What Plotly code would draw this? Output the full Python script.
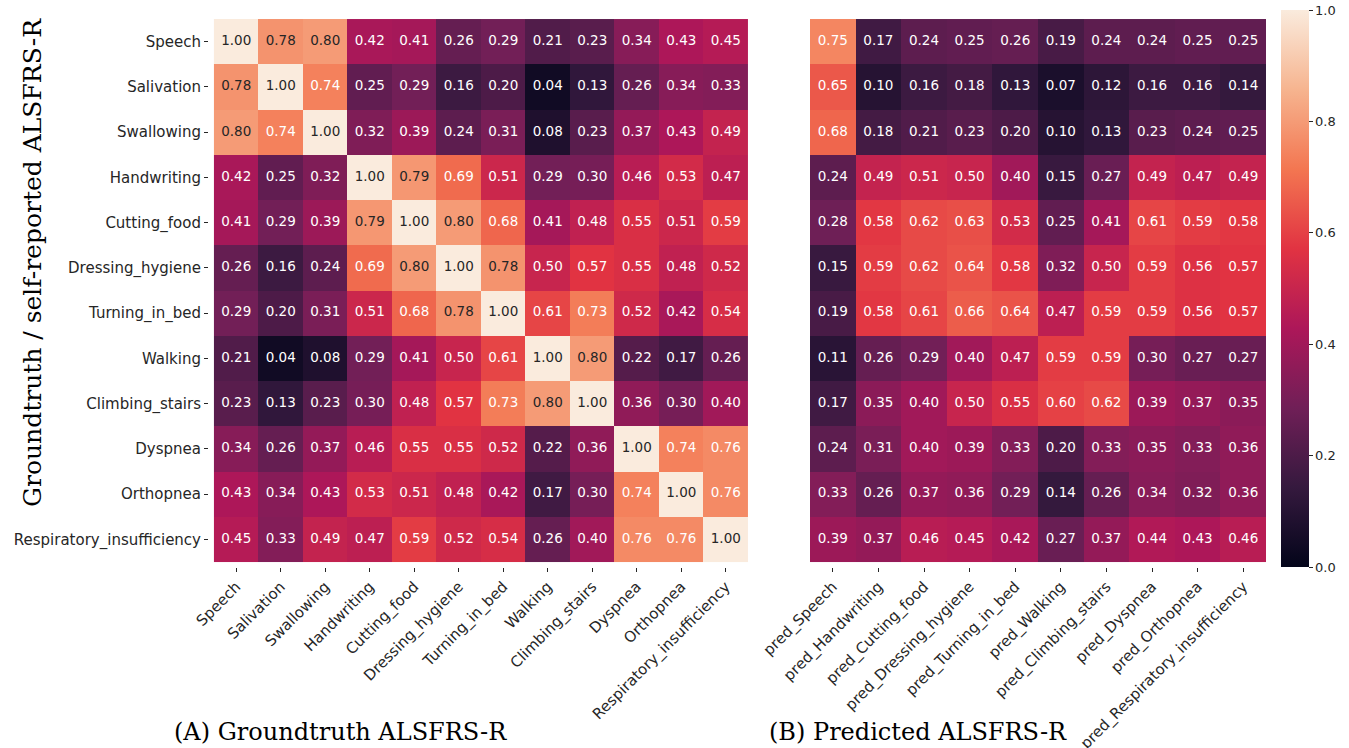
import plotly.graph_objects as go

W, H = 1349, 748

rows = ["Speech", "Salivation", "Swallowing", "Handwriting", "Cutting_food",
        "Dressing_hygiene", "Turning_in_bed", "Walking", "Climbing_stairs",
        "Dyspnea", "Orthopnea", "Respiratory_insufficiency"]
gt_cols = rows[:]
pred_cols = ["pred_Speech", "pred_Handwriting", "pred_Cutting_food",
             "pred_Dressing_hygiene", "pred_Turning_in_bed", "pred_Walking",
             "pred_Climbing_stairs", "pred_Dyspnea", "pred_Orthopnea",
             "pred_Respiratory_insufficiency"]

gt_vals = [
    [1.00, 0.78, 0.80, 0.42, 0.41, 0.26, 0.29, 0.21, 0.23, 0.34, 0.43, 0.45],
    [0.78, 1.00, 0.74, 0.25, 0.29, 0.16, 0.20, 0.04, 0.13, 0.26, 0.34, 0.33],
    [0.80, 0.74, 1.00, 0.32, 0.39, 0.24, 0.31, 0.08, 0.23, 0.37, 0.43, 0.49],
    [0.42, 0.25, 0.32, 1.00, 0.79, 0.69, 0.51, 0.29, 0.30, 0.46, 0.53, 0.47],
    [0.41, 0.29, 0.39, 0.79, 1.00, 0.80, 0.68, 0.41, 0.48, 0.55, 0.51, 0.59],
    [0.26, 0.16, 0.24, 0.69, 0.80, 1.00, 0.78, 0.50, 0.57, 0.55, 0.48, 0.52],
    [0.29, 0.20, 0.31, 0.51, 0.68, 0.78, 1.00, 0.61, 0.73, 0.52, 0.42, 0.54],
    [0.21, 0.04, 0.08, 0.29, 0.41, 0.50, 0.61, 1.00, 0.80, 0.22, 0.17, 0.26],
    [0.23, 0.13, 0.23, 0.30, 0.48, 0.57, 0.73, 0.80, 1.00, 0.36, 0.30, 0.40],
    [0.34, 0.26, 0.37, 0.46, 0.55, 0.55, 0.52, 0.22, 0.36, 1.00, 0.74, 0.76],
    [0.43, 0.34, 0.43, 0.53, 0.51, 0.48, 0.42, 0.17, 0.30, 0.74, 1.00, 0.76],
    [0.45, 0.33, 0.49, 0.47, 0.59, 0.52, 0.54, 0.26, 0.40, 0.76, 0.76, 1.00],
]

pred_vals = [
    [0.75, 0.17, 0.24, 0.25, 0.26, 0.19, 0.24, 0.24, 0.25, 0.25],
    [0.65, 0.10, 0.16, 0.18, 0.13, 0.07, 0.12, 0.16, 0.16, 0.14],
    [0.68, 0.18, 0.21, 0.23, 0.20, 0.10, 0.13, 0.23, 0.24, 0.25],
    [0.24, 0.49, 0.51, 0.50, 0.40, 0.15, 0.27, 0.49, 0.47, 0.49],
    [0.28, 0.58, 0.62, 0.63, 0.53, 0.25, 0.41, 0.61, 0.59, 0.58],
    [0.15, 0.59, 0.62, 0.64, 0.58, 0.32, 0.50, 0.59, 0.56, 0.57],
    [0.19, 0.58, 0.61, 0.66, 0.64, 0.47, 0.59, 0.59, 0.56, 0.57],
    [0.11, 0.26, 0.29, 0.40, 0.47, 0.59, 0.59, 0.30, 0.27, 0.27],
    [0.17, 0.35, 0.40, 0.50, 0.55, 0.60, 0.62, 0.39, 0.37, 0.35],
    [0.24, 0.31, 0.40, 0.39, 0.33, 0.20, 0.33, 0.35, 0.33, 0.36],
    [0.33, 0.26, 0.37, 0.36, 0.29, 0.14, 0.26, 0.34, 0.32, 0.36],
    [0.39, 0.37, 0.46, 0.45, 0.42, 0.27, 0.37, 0.44, 0.43, 0.46],
]

colorbar_ticks = [0.0, 0.2, 0.4, 0.6, 0.8, 1.0]

rocket = [
    [0.0, "#03051a"],
    [0.143, "#35193e"],
    [0.286, "#701f57"],
    [0.429, "#ad1759"],
    [0.571, "#e13342"],
    [0.714, "#f37651"],
    [0.857, "#f6b48f"],
    [1.0, "#faebdd"],
]

SANS = "DejaVu Sans"
SERIF = "DejaVu Serif"
DARK = "#262626"

fig = go.Figure()


def add_panel(vals, cols, xa, ya, showscale):
    fig.add_trace(go.Heatmap(
        z=vals, x=cols, y=rows, zmin=0, zmax=1, colorscale=rocket,
        xaxis=xa, yaxis=ya, showscale=showscale, hoverinfo="skip",
        colorbar=dict(
            x=1281 / W, xanchor="left", xpad=0, ypad=0,
            y=1 - 567 / H, yanchor="bottom", len=(567 - 10) / H, lenmode="fraction",
            thickness=28, thicknessmode="pixels", outlinewidth=0,
            tickvals=colorbar_ticks, ticktext=[f"{t:.1f}" for t in colorbar_ticks],
            ticks="outside", ticklen=4, tickcolor=DARK,
            tickfont=dict(family=SANS, size=13, color=DARK),
        ) if showscale else None,
    ))
    xs, ys, ts, cs = [], [], [], []
    for i, r in enumerate(rows):
        for j, c in enumerate(cols):
            v = vals[i][j]
            xs.append(c)
            ys.append(r)
            ts.append(f"{v:.2f}")
            cs.append(DARK if v >= 0.77 else "white")
    fig.add_trace(go.Scatter(
        x=xs, y=ys, text=ts, mode="text", xaxis=xa, yaxis=ya,
        textfont=dict(family=SANS, size=13.5, color=cs),
        hoverinfo="skip", showlegend=False,
    ))


add_panel(gt_vals, gt_cols, "x", "y", False)
add_panel(pred_vals, pred_cols, "x2", "y2", True)

ydom = [1 - 567 / H, 1 - 14 / H]
axis_common = dict(ticklen=4, tickcolor=DARK, showgrid=False, automargin=False,
                   zeroline=False, showline=False,
                   tickfont=dict(family=SANS, size=15, color=DARK))

fig.update_layout(
    width=W, height=H, margin=dict(l=0, r=0, t=0, b=0, autoexpand=False),
    paper_bgcolor="white", plot_bgcolor="white", showlegend=False,
    xaxis=dict(domain=[209 / W, 753 / W], tickangle=-45, anchor="y", ticks="outside", **axis_common),
    yaxis=dict(domain=ydom, autorange="reversed", anchor="x", ticks="outside", **axis_common),
    xaxis2=dict(domain=[810 / W, 1266 / W], tickangle=-45, anchor="y2", ticks="outside", **axis_common),
    yaxis2=dict(domain=ydom, autorange="reversed", anchor="x2", showticklabels=False,
                ticks="", **axis_common),
    annotations=[
        dict(text="Groundtruth / self-reported ALSFRS-R", xref="paper", yref="paper",
             x=32 / W, y=1 - 263 / H, xanchor="center", yanchor="middle",
             textangle=-90, showarrow=False,
             font=dict(family=SERIF, size=25, color="black")),
        dict(text="(A) Groundtruth ALSFRS-R", xref="paper", yref="paper",
             x=340 / W, y=1 - 732 / H, xanchor="center", yanchor="middle", showarrow=False,
             font=dict(family=SERIF, size=24, color="black")),
        dict(text="(B) Predicted ALSFRS-R", xref="paper", yref="paper",
             x=918 / W, y=1 - 732 / H, xanchor="center", yanchor="middle", showarrow=False,
             font=dict(family=SERIF, size=24, color="black")),
    ],
)

fig.write_html("out.html")
